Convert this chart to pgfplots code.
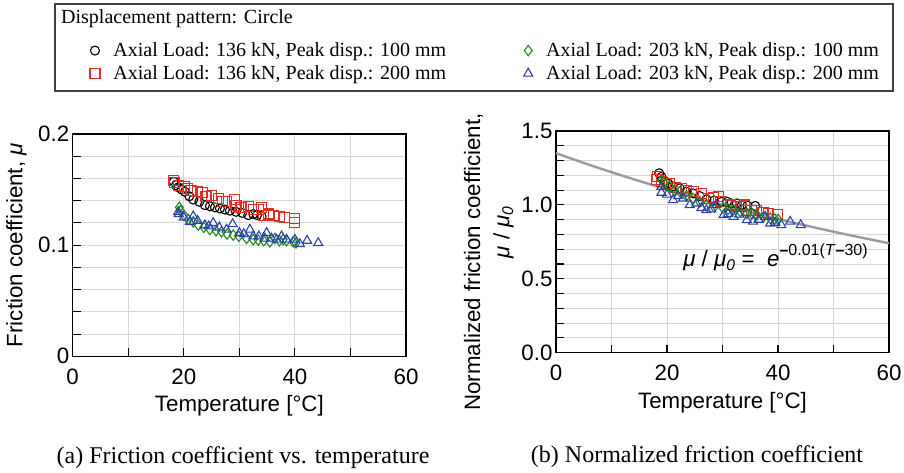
\documentclass[border=0pt]{standalone}
\usepackage{fontspec}
\setmainfont{Liberation Serif}
\setsansfont{Liberation Sans}
\usepackage{pgfplots}
\pgfplotsset{compat=1.18}
\definecolor{cred}{RGB}{228,45,38}
\definecolor{cgreen}{RGB}{30,135,30}
\definecolor{cblue}{RGB}{45,65,170}
\definecolor{gridc}{RGB}{215,215,215}
\definecolor{fitc}{RGB}{155,155,155}
\newcommand\axfont{\fontsize{22.3}{26}\selectfont\sffamily}
\newcommand\lgfont{\fontsize{20}{24}\selectfont\rmfamily}

\pgfplotstableread{
T mu
18.2 0.157
18.6 0.154
19.0 0.152
19.6 0.150
20.2 0.148
21.0 0.144
21.7 0.141
22.8 0.139
23.8 0.136
24.7 0.135
25.6 0.134
26.5 0.133
27.4 0.132
28.3 0.131
29.4 0.130
30.5 0.129
31.6 0.127
32.5 0.128
33.2 0.127
34.0 0.126
}\aBlack
\pgfplotstableread{
T mu
18.1 0.158
18.3 0.156
19.0 0.154
20.2 0.153
20.6 0.151
21.3 0.149
22.4 0.148
23.4 0.147
24.0 0.144
25.0 0.145
26.2 0.142
27.0 0.139
27.7 0.139
29.2 0.141
29.4 0.136
30.3 0.134
31.6 0.135
32.5 0.132
33.4 0.132
34.0 0.134
34.3 0.127
35.3 0.128
36.1 0.127
37.2 0.126
38.2 0.125
39.9 0.124
39.9 0.120
}\aRed
\pgfplotstableread{
T mu
19.2 0.134
19.4 0.131
20.0 0.127
20.8 0.123
21.7 0.121
22.6 0.118
23.6 0.116
24.7 0.114
25.8 0.113
26.8 0.112
27.8 0.110
28.9 0.109
29.9 0.108
31.3 0.106
32.5 0.105
33.4 0.1045
34.4 0.104
35.5 0.103
36.4 0.106
37.2 0.104
37.9 0.105
38.5 0.104
39.7 0.103
40.2 0.102
}\aGreen
\pgfplotstableread{
T mu
19.0 0.130
19.1 0.128
20.0 0.125
21.1 0.121
21.7 0.126
22.5 0.122
23.8 0.118
24.5 0.117
25.3 0.120
26.4 0.116
27.7 0.114
28.8 0.119
30.0 0.111
30.8 0.110
31.9 0.114
32.5 0.108
33.5 0.108
34.9 0.111
34.6 0.106
35.8 0.106
36.7 0.105
37.6 0.108
38.5 0.105
40.0 0.105
40.9 0.101
42.2 0.104
44.2 0.102
}\aBlue
\pgfplotstableread{
T r
18.6 1.214
19.0 1.19
19.6 1.16
20.2 1.146
21.0 1.125
22.3 1.112
23.5 1.09
24.7 1.078
25.9 1.06
27.1 1.038
28.5 1.03
29.8 1.02
30.8 1.022
31.6 1.01
32.6 1.01
33.5 1.0
34.5 0.995
35.9 0.993
}\bBlack
\pgfplotstableread{
T r
18.1 1.17
18.3 1.19
19.0 1.16
20.5 1.146
21.6 1.12
22.6 1.112
23.5 1.10
24.7 1.09
26.2 1.078
27.4 1.044
28.3 1.05
29.2 1.056
29.6 1.022
31.4 0.999
32.5 0.99
33.4 0.99
34.0 0.999
34.3 0.965
35.3 0.96
36.2 0.961
37.3 0.95
38.3 0.943
39.9 0.938
}\bRed
\pgfplotstableread{
T r
19.0 1.168
19.4 1.15
20.5 1.123
21.3 1.10
22.3 1.09
23.5 1.06
24.7 1.044
25.9 1.02
27.1 0.999
28.5 0.985
30.1 0.977
31.0 0.97
31.9 0.965
33.2 0.955
34.4 0.943
35.3 0.94
36.2 0.932
37.4 0.92
38.6 0.909
39.4 0.905
40.0 0.902
}\bGreen
\pgfplotstableread{
T r
19.0 1.123
19.0 1.083
20.0 1.07
21.1 1.033
22.0 1.06
22.9 1.044
24.1 0.999
25.3 1.01
26.2 0.98
27.1 0.965
28.0 0.97
28.9 0.999
30.2 0.932
31.0 0.94
32.0 0.92
33.0 0.935
34.4 0.898
35.5 0.887
36.5 0.90
37.7 0.92
38.6 0.875
39.5 0.88
40.6 0.864
42.2 0.887
44.1 0.864
}\bBlue
\pgfplotstableread{
T r
0 1.3499
5 1.2840
10 1.2214
15 1.1618
20 1.1052
25 1.0513
30 1.0000
35 0.9512
40 0.9048
45 0.8607
50 0.8187
55 0.7788
60 0.7408
}\fitline

\pgfplotsset{
  myax/.style={
    scale only axis,
    xmin=0, xmax=60,
    xtick={0,20,40,60}, xticklabels={0,20,40,60},
    minor xtick={10,30,50},
    grid=both,
    grid style={gridc, line width=0.9pt},
    minor grid style={gridc, line width=0.9pt},
    axis line style={black, line width=1.3pt},
    tick align=inside,
    tick pos=left,
    major tick length=8pt, minor tick length=8pt,
    every tick/.style={black, line width=1.1pt},
    minor tick style={black, line width=1.1pt},
    tick label style={font=\axfont},
    xticklabel style={yshift=-9pt},
    label style={font=\axfont},
    /pgf/number format/assume math mode=true,
  },
  mk/.style={only marks, line width=1.1pt},
}

\begin{document}
\begin{tikzpicture}[x=1pt,y=1pt]
\path[use as bounding box] (0,0) rectangle (904,473);

\begin{axis}[myax,
  at={(72.7pt,116.7pt)}, anchor=south west,
  width=333.3pt, height=222.3pt,
  ymin=0, ymax=0.2,
  ytick={0,0.1,0.2}, yticklabels={0,0.1,0.2},
  minor ytick={0.02,0.04,0.06,0.08,0.12,0.14,0.16,0.18},
  xlabel={Temperature [°C]},
  xlabel style={at={(axis description cs:0.5,-0.2236)}, anchor=center},
  ylabel={Friction coefficient, \textit{μ}},
  ylabel style={at={(axis description cs:-0.1686,0.5)}, anchor=center},
  legend columns=2,
  legend cell align=left,
  legend style={at={(axis description cs:1.237,1.3237)}, anchor=center,
    draw=none, fill=none, font=\lgfont,
    nodes={inner sep=1pt},
    row sep=5.5pt,
    /tikz/every odd column/.append style={column sep=12.5pt},
    /tikz/every even column/.append style={column sep=76.5pt}},
]
\addplot[mk, black, mark=o, mark size=4.5pt] table[x=T,y=mu]{\aBlack};
\addlegendentry{Axial Load: 136 kN, Peak disp.: 100 mm}
\addplot[mk, cgreen, mark=diamond, mark size=5.2pt] table[x=T,y=mu]{\aGreen};
\addlegendentry{Axial Load: 203 kN, Peak disp.: 100 mm}
\addplot[mk, cred, mark=square, mark size=5pt] table[x=T,y=mu]{\aRed};
\addlegendentry{Axial Load: 136 kN, Peak disp.: 200 mm}
\addplot[mk, cblue, mark=triangle, mark size=5.2pt] table[x=T,y=mu]{\aBlue};
\addlegendentry{Axial Load: 203 kN, Peak disp.: 200 mm}
\end{axis}

\begin{axis}[myax,
  at={(556pt,120.3pt)}, anchor=south west,
  width=333pt, height=221.7pt,
  ymin=0, ymax=1.5,
  ytick={0,0.5,1,1.5}, yticklabels={0.0,0.5,1.0,1.5},
  minor ytick={0.1,0.2,0.3,0.4,0.6,0.7,0.8,0.9,1.1,1.2,1.3,1.4},
  xlabel={Temperature [°C]},
  xlabel style={at={(axis description cs:0.5,-0.2269)}, anchor=center},
  clip=false,
]
\addplot[fitc, line width=2.4pt, smooth, no marks] table[x=T,y=r]{\fitline};
\addplot[mk, black, mark=o, mark size=4.5pt] table[x=T,y=r]{\bBlack};
\addplot[mk, cred, mark=square, mark size=5pt] table[x=T,y=r]{\bRed};
\addplot[mk, cgreen, mark=diamond, mark size=5.2pt] table[x=T,y=r]{\bGreen};
\addplot[mk, cblue, mark=triangle, mark size=5.2pt] table[x=T,y=r]{\bBlue};
\node[anchor=base west, font=\axfont, inner sep=0pt] at (axis cs:22.9,0.58)
  {\textit{μ} / \textit{μ}\textsubscript{\textit{0}} =\ \ \textit{e}\raisebox{11pt}{\fontsize{16}{18}\selectfont\textbf{–}0.01(\textit{T}\textbf{–}30)}};
\node[rotate=90, font=\axfont, anchor=center] at (axis description cs:-0.2477,0.409) {Normalized friction coefficient,};
\node[rotate=90, font=\axfont, anchor=center] at (axis description cs:-0.1577,0.5445) {\textit{μ} / \textit{μ}\textsubscript{\textit{0}}};
\end{axis}

\draw[black!75, line width=1.2pt] (55,382) rectangle (893,469);
\node[anchor=west, font=\lgfont, inner sep=0pt] at (61,454) {Displacement pattern: Circle};
\node[font=\fontsize{24}{28}\selectfont\rmfamily] at (243,15) {(a) Friction coefficient vs. temperature};
\node[font=\fontsize{24}{28}\selectfont\rmfamily] at (697,16) {(b) Normalized friction coefficient};
\end{tikzpicture}
\end{document}
